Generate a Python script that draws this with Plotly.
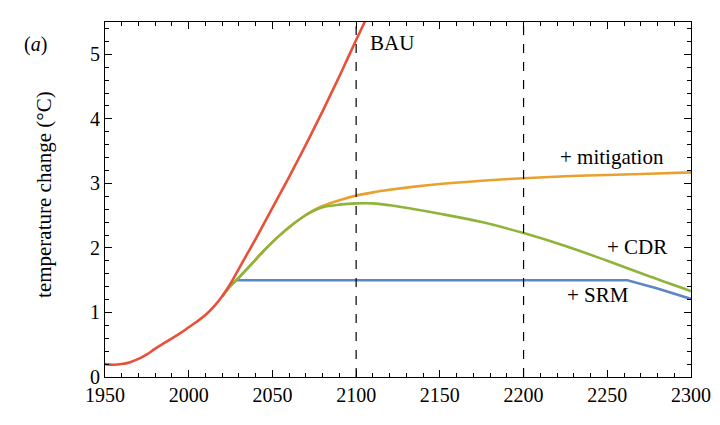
import plotly.graph_objects as go

# values (temperature change, deg C)
bau_years = [1950, 1955, 1960, 1965, 1970, 1975, 1980, 1985, 1990, 1995, 2000, 2005, 2010,
             2015, 2020, 2025, 2030, 2035, 2040, 2045, 2050, 2055, 2060, 2065, 2070, 2075,
             2080, 2085, 2090, 2095, 2100, 2106]
bau_temp = [0.20, 0.19, 0.20, 0.23, 0.28, 0.35, 0.44, 0.52, 0.60, 0.68, 0.77, 0.86, 0.96,
            1.09, 1.25, 1.45, 1.68, 1.91, 2.14, 2.38, 2.62, 2.86, 3.10, 3.35, 3.60, 3.86,
            4.12, 4.39, 4.66, 4.94, 5.22, 5.55]

mit_years = [2020, 2025, 2030, 2035, 2040, 2045, 2050, 2055, 2060, 2065, 2070, 2075, 2080,
             2090, 2100, 2110, 2120, 2135, 2150, 2175, 2200, 2225, 2250, 2275, 2300]
mit_temp = [1.25, 1.41, 1.54, 1.68, 1.82, 1.96, 2.09, 2.21, 2.32, 2.42, 2.51, 2.59, 2.65,
            2.74, 2.81, 2.86, 2.90, 2.95, 2.99, 3.04, 3.08, 3.11, 3.13, 3.15, 3.17]

cdr_years = [2020, 2025, 2030, 2035, 2040, 2045, 2050, 2055, 2060, 2065, 2070, 2075, 2080,
             2090, 2100, 2110, 2120, 2135, 2150, 2175, 2200, 2225, 2250, 2275, 2300]
cdr_temp = [1.25, 1.41, 1.54, 1.68, 1.82, 1.96, 2.09, 2.21, 2.32, 2.42, 2.51, 2.58, 2.63,
            2.67, 2.69, 2.69, 2.66, 2.60, 2.53, 2.40, 2.23, 2.03, 1.80, 1.56, 1.33]

srm_years = [2028.5, 2100, 2200, 2262, 2280, 2300]
srm_temp = [1.50, 1.50, 1.50, 1.50, 1.37, 1.21]

red = "#e8503a"
orange = "#e9a02f"
green = "#8eb43a"
blue = "#5d86c6"
serif = "Liberation Serif"

fig = go.Figure()

fig.add_trace(go.Scatter(x=srm_years, y=srm_temp, mode="lines",
                         line=dict(color=blue, width=2.6), name="+ SRM"))
fig.add_trace(go.Scatter(x=mit_years, y=mit_temp, mode="lines",
                         line=dict(color=orange, width=2.6, shape="spline"), name="+ mitigation"))
fig.add_trace(go.Scatter(x=cdr_years, y=cdr_temp, mode="lines",
                         line=dict(color=green, width=2.6, shape="spline"), name="+ CDR"))
fig.add_trace(go.Scatter(x=bau_years, y=bau_temp, mode="lines",
                         line=dict(color=red, width=2.6, shape="spline"), name="BAU"))

# dashed reference years
for yr in [2100, 2200]:
    fig.add_shape(type="line", x0=yr, x1=yr, y0=0, y1=1, xref="x", yref="paper",
                  line=dict(color="black", width=1.2, dash="dash"))

labels = [
    ("BAU", 2108, 5.17),
    ("+ mitigation", 2222, 3.41),
    ("+ CDR", 2250, 2.02),
    ("+ SRM", 2226, 1.27),
]
for txt, lx, ly in labels:
    fig.add_annotation(x=lx, y=ly, text=txt, showarrow=False, xanchor="left", xshift=-2,
                       font=dict(family=serif, size=21, color="black"))

# panel letter and y-axis title
fig.add_annotation(x=-0.118, y=0.975, xref="paper", yref="paper", text="(<i>a</i>)",
                   xanchor="center", showarrow=False,
                   font=dict(family=serif, size=20, color="black"))
fig.add_annotation(x=-0.104, y=0.513, xref="paper", yref="paper", text="temperature change (°C)",
                   xanchor="center", textangle=-90, showarrow=False,
                   font=dict(family=serif, size=21, color="black"))

axis_common = dict(
    showline=True, linecolor="black", linewidth=1.2, mirror="ticks",
    ticks="inside", ticklen=7, tickwidth=1, tickcolor="black",
    showgrid=False, zeroline=False, automargin=False,
    tickfont=dict(family=serif, size=20, color="black"),
)

fig.update_xaxes(range=[1950, 2300], tickmode="array",
                 tickvals=[1950, 2000, 2050, 2100, 2150, 2200, 2250, 2300],
                 minor=dict(dtick=10, tick0=1950, ticks="inside", ticklen=4, tickcolor="black"),
                 **axis_common)
fig.update_yaxes(range=[0, 5.5], tickmode="array", tickvals=[0, 1, 2, 3, 4, 5],
                 minor=dict(dtick=0.2, tick0=0, ticks="inside", ticklen=4, tickcolor="black"),
                 **axis_common)

# page body adds an 8px margin, so the figure is drawn smaller than the window
fig.update_layout(
    width=704, height=400,
    margin=dict(l=97, r=21, t=14, b=31, autoexpand=False),
    paper_bgcolor="white", plot_bgcolor="white",
    showlegend=False,
)

fig.write_html("out.html")
